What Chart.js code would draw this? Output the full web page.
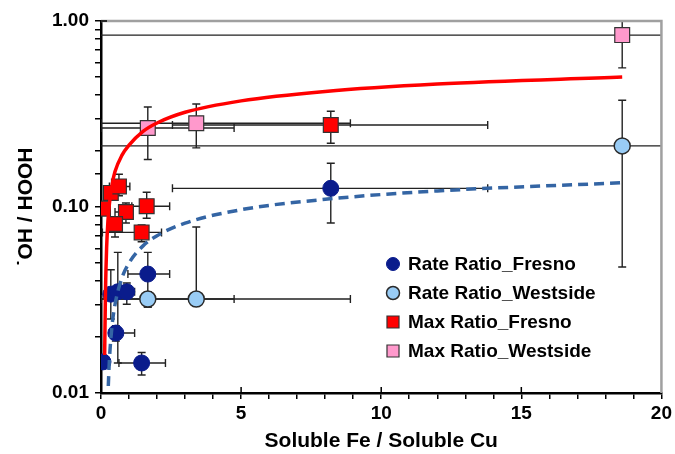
<!DOCTYPE html>
<html>
<head>
<meta charset="utf-8">
<script src="https://cdn.jsdelivr.net/npm/chart.js@4.4.0/dist/chart.umd.min.js"></script>
<style>
    html, body { margin: 0; padding: 0; background: #fff; }
</style>
</head>
<body>
<canvas id="grafica" width="675" height="454"></canvas>
<script>
// Rate Ratio_Fresno
const rateFresnoX = [0.07, 0.53, 0.35, 0.6, 0.92, 1.67, 1.45, 8.2]
const rateFresnoY = [0.0147, 0.021, 0.034, 0.035, 0.035, 0.0436, 0.0145, 0.126]
const rateFresnoXErr = [[0, 0.15], [0.3, 1.2], [0.2, 0.5], [0.4, 0.8], [0.6, 1.2], [0.96, 2.45], [0.64, 2.3], [2.55, 13.8]]
const rateFresnoYErr = [[0.0147, 0.0147], [0.019, 0.023], [0.025, 0.046], [0.0145, 0.057], [0.03, 0.039], [0.029, 0.057], [0.0125, 0.0165], [0.082, 0.172]]

// Rate Ratio_Westside
const rateWestX = [1.67, 3.4, 18.6]
const rateWestY = [0.032, 0.032, 0.213]
const rateWestXErr = [[0, 4.75], [0, 8.9], [-5, 45]]
const rateWestYErr = [[0.029, 0.035], [0.03, 0.078], [0.0476, 0.375]]

// Max Ratio_Fresno
const maxFresnoX = [0.07, 0.35, 0.64, 0.89, 1.63, 0.5, 1.45, 8.2]
const maxFresnoY = [0.098, 0.119, 0.129, 0.094, 0.101, 0.081, 0.073, 0.276]
const maxFresnoXErr = [[0, 0.15], [0.25, 0.45], [0.3, 1.03], [0.5, 1.0], [1.1, 2.45], [0.3, 0.7], [0.05, 2.16], [2.55, 13.8]]
const maxFresnoYErr = [[0.093, 0.103], [0.119, 0.119], [0.115, 0.15], [0.082, 0.105], [0.087, 0.12], [0.069, 0.081], [0.065, 0.08], [0.22, 0.327]]

// Max Ratio_Westside
const maxWestX = [1.67, 3.4, 18.6]
const maxWestY = [0.266, 0.282, 0.84]
const maxWestXErr = [[0, 4.75], [0, 8.9], [-5, 45]]
const maxWestYErr = [[0.18, 0.345], [0.208, 0.358], [0.56, 1.5]]

// curvas de ajuste
const redFitX = [0.13, 0.16, 0.2, 0.25, 0.3, 0.4, 0.5, 0.75, 1, 1.5, 2, 3, 5, 8, 12, 18.6]
const redFitY = [0.016, 0.035, 0.06, 0.085, 0.104, 0.133, 0.155, 0.19, 0.215, 0.255, 0.283, 0.323, 0.372, 0.418, 0.458, 0.5]
const blueFitX = [0.26, 0.3, 0.4, 0.5, 0.75, 1, 1.5, 2, 3, 5, 8, 12, 18.6]
const blueFitY = [0.0109, 0.0151, 0.0234, 0.0299, 0.0417, 0.05, 0.0618, 0.0701, 0.0819, 0.0967, 0.11, 0.122, 0.135]

const xTickLabels = [0, 5, 10, 15, 20]
const yTickLabels = [0.01, 0.1, 1]

const FONT = '"Liberation Sans", Arial, sans-serif'

function toPoints(xs, ys) {
    return xs.map((x, i) => ({ x: x, y: ys[i] }))
}

function isLabel(list, v) {
    return list.some(t => Math.abs(v - t) <= Math.abs(t) * 1e-6 + 1e-9)
}

const datasets = [
    {
        label: "Rate Ratio_Fresno",
        data: toPoints(rateFresnoX, rateFresnoY),
        xErr: rateFresnoXErr, yErr: rateFresnoYErr,
        pointStyle: "circle", pointRadius: 8,
        backgroundColor: "#0a1c8c", borderColor: "#0a1c8c", borderWidth: 1,
        order: 1, inLegend: true
    },
    {
        label: "Rate Ratio_Westside",
        data: toPoints(rateWestX, rateWestY),
        xErr: rateWestXErr, yErr: rateWestYErr,
        pointStyle: "circle", pointRadius: 8,
        backgroundColor: "#99ccf5", borderColor: "#2a2a2a", borderWidth: 1.5,
        order: 1, inLegend: true
    },
    {
        label: "Max Ratio_Fresno",
        data: toPoints(maxFresnoX, maxFresnoY),
        xErr: maxFresnoXErr, yErr: maxFresnoYErr,
        pointStyle: "rect", pointRadius: 10.5,
        backgroundColor: "#ff0000", borderColor: "#333333", borderWidth: 1.2,
        order: 1, inLegend: true
    },
    {
        label: "Max Ratio_Westside",
        data: toPoints(maxWestX, maxWestY),
        xErr: maxWestXErr, yErr: maxWestYErr,
        pointStyle: "rect", pointRadius: 10.5,
        backgroundColor: "#ff99cc", borderColor: "#333333", borderWidth: 1.2,
        order: 1, inLegend: true
    },
    {
        type: "line",
        label: "fit_max",
        data: toPoints(redFitX, redFitY),
        borderColor: "#ff0000", borderWidth: 3.5,
        pointRadius: 0, cubicInterpolationMode: "monotone", fill: false,
        order: 0
    },
    {
        type: "line",
        label: "fit_rate",
        data: toPoints(blueFitX, blueFitY),
        borderColor: "#3465a4", borderWidth: 3.5, borderDash: [10, 6],
        pointRadius: 0, cubicInterpolationMode: "monotone", fill: false,
        order: 0
    }
]

// barras de error
const errorBars = {
    id: "errorBars",
    beforeDatasetsDraw(chart) {
        const { ctx, chartArea, scales } = chart
        const xs = scales.x, ys = scales.y
        ctx.save()
        ctx.beginPath()
        ctx.rect(chartArea.left, chartArea.top, chartArea.right - chartArea.left, chartArea.bottom - chartArea.top)
        ctx.clip()
        ctx.strokeStyle = "#222"
        ctx.lineWidth = 1.4
        chart.data.datasets.forEach(ds => {
            if (!ds.xErr) return
            ds.data.forEach((p, i) => {
                const px = xs.getPixelForValue(p.x)
                const py = ys.getPixelForValue(p.y)
                const x1 = xs.getPixelForValue(ds.xErr[i][0])
                const x2 = xs.getPixelForValue(ds.xErr[i][1])
                const y1 = ys.getPixelForValue(ds.yErr[i][0])
                const y2 = ys.getPixelForValue(ds.yErr[i][1])
                ctx.beginPath()
                ctx.moveTo(x1, py); ctx.lineTo(x2, py)
                ctx.moveTo(x1, py - 4); ctx.lineTo(x1, py + 4)
                ctx.moveTo(x2, py - 4); ctx.lineTo(x2, py + 4)
                ctx.moveTo(px, y1); ctx.lineTo(px, y2)
                ctx.moveTo(px - 4, y1); ctx.lineTo(px + 4, y1)
                ctx.moveTo(px - 4, y2); ctx.lineTo(px + 4, y2)
                ctx.stroke()
            })
        })
        ctx.restore()
    }
}

// marco gris arriba y a la derecha + marcas mayores hacia adentro
const frame = {
    id: "frame",
    beforeDatasetsDraw(chart) {
        const { ctx, chartArea, scales } = chart
        ctx.save()
        ctx.strokeStyle = "#a0a0a0"
        ctx.lineWidth = 2.5
        ctx.beginPath()
        ctx.moveTo(chartArea.left, chartArea.top)
        ctx.lineTo(chartArea.right, chartArea.top)
        ctx.lineTo(chartArea.right, chartArea.bottom)
        ctx.stroke()
        ctx.strokeStyle = "#000"
        ctx.lineWidth = 1.5
        ctx.beginPath()
        xTickLabels.slice(1, -1).forEach(v => {
            const x = scales.x.getPixelForValue(v)
            ctx.moveTo(x, chartArea.bottom); ctx.lineTo(x, chartArea.bottom - 6)
        })
        yTickLabels.forEach(v => {
            const y = scales.y.getPixelForValue(v)
            ctx.moveTo(chartArea.left, y); ctx.lineTo(chartArea.left + 6, y)
        })
        ctx.stroke()
        ctx.restore()
    }
}

// leyenda dentro del area
const legendBox = {
    id: "legendBox",
    afterDraw(chart) {
        const { ctx, chartArea } = chart
        const items = chart.data.datasets.filter(d => d.inLegend)
        ctx.save()
        ctx.font = "bold 19px " + FONT
        ctx.textBaseline = "middle"
        items.forEach((d, i) => {
            const x = chartArea.left + 292
            const y = chartArea.top + 243 + i * 29
            ctx.fillStyle = d.backgroundColor
            ctx.strokeStyle = d.borderColor
            ctx.lineWidth = d.borderWidth
            Chart.helpers.drawPoint(ctx, {
                pointStyle: d.pointStyle,
                radius: d.pointStyle === "rect" ? 8.5 : 6.5,
                rotation: 0,
                borderWidth: d.borderWidth
            }, x, y)
            ctx.fillStyle = "#000"
            ctx.fillText(d.label, x + 15, y + 1)
        })
        ctx.restore()
    }
}

const config = {
    type: "scatter",
    data: { datasets },
    options: {
        responsive: false,
        animation: false,
        layout: { padding: { top: 21, right: 10, left: 0, bottom: 0 } },
        plugins: {
            legend: { display: false },
            tooltip: { enabled: false }
        },
        scales: {
            x: {
                type: "linear",
                min: 0, max: 20,
                afterFit: s => { s.height = 61 },
                ticks: {
                    stepSize: 1, autoSkip: false, maxRotation: 0, padding: 3,
                    color: "#000", font: { family: FONT, size: 19, weight: "bold" },
                    callback: v => isLabel(xTickLabels, v) ? String(v) : ""
                },
                grid: { drawOnChartArea: false, color: "#000", tickLength: 6, lineWidth: 1.5 },
                border: { color: "#000", width: 2.5 },
                title: {
                    display: true, text: "Soluble Fe / Soluble Cu", color: "#000",
                    font: { family: FONT, size: 21, weight: "bold" },
                    padding: { top: 0, bottom: 0 }
                }
            },
            y: {
                type: "logarithmic",
                min: 0.01, max: 1,
                afterFit: s => { s.width = 101 },
                ticks: {
                    autoSkip: false, padding: 6,
                    color: "#000", font: { family: FONT, size: 19, weight: "bold" },
                    callback: v => isLabel(yTickLabels, v) ? Number(v).toFixed(2) : ""
                },
                grid: { drawOnChartArea: false, color: "#000", tickLength: 6, lineWidth: 1.5 },
                border: { color: "#000", width: 2.5 },
                title: {
                    display: true, text: "˙OH / HOOH", color: "#000",
                    font: { family: FONT, size: 21, weight: "bold" },
                    padding: { top: 14, bottom: 0 }
                }
            }
        }
    },
    plugins: [errorBars, frame, legendBox]
}

const grafica = document.getElementById("grafica")
const chart = new Chart(grafica, config)
</script>
</body>
</html>
